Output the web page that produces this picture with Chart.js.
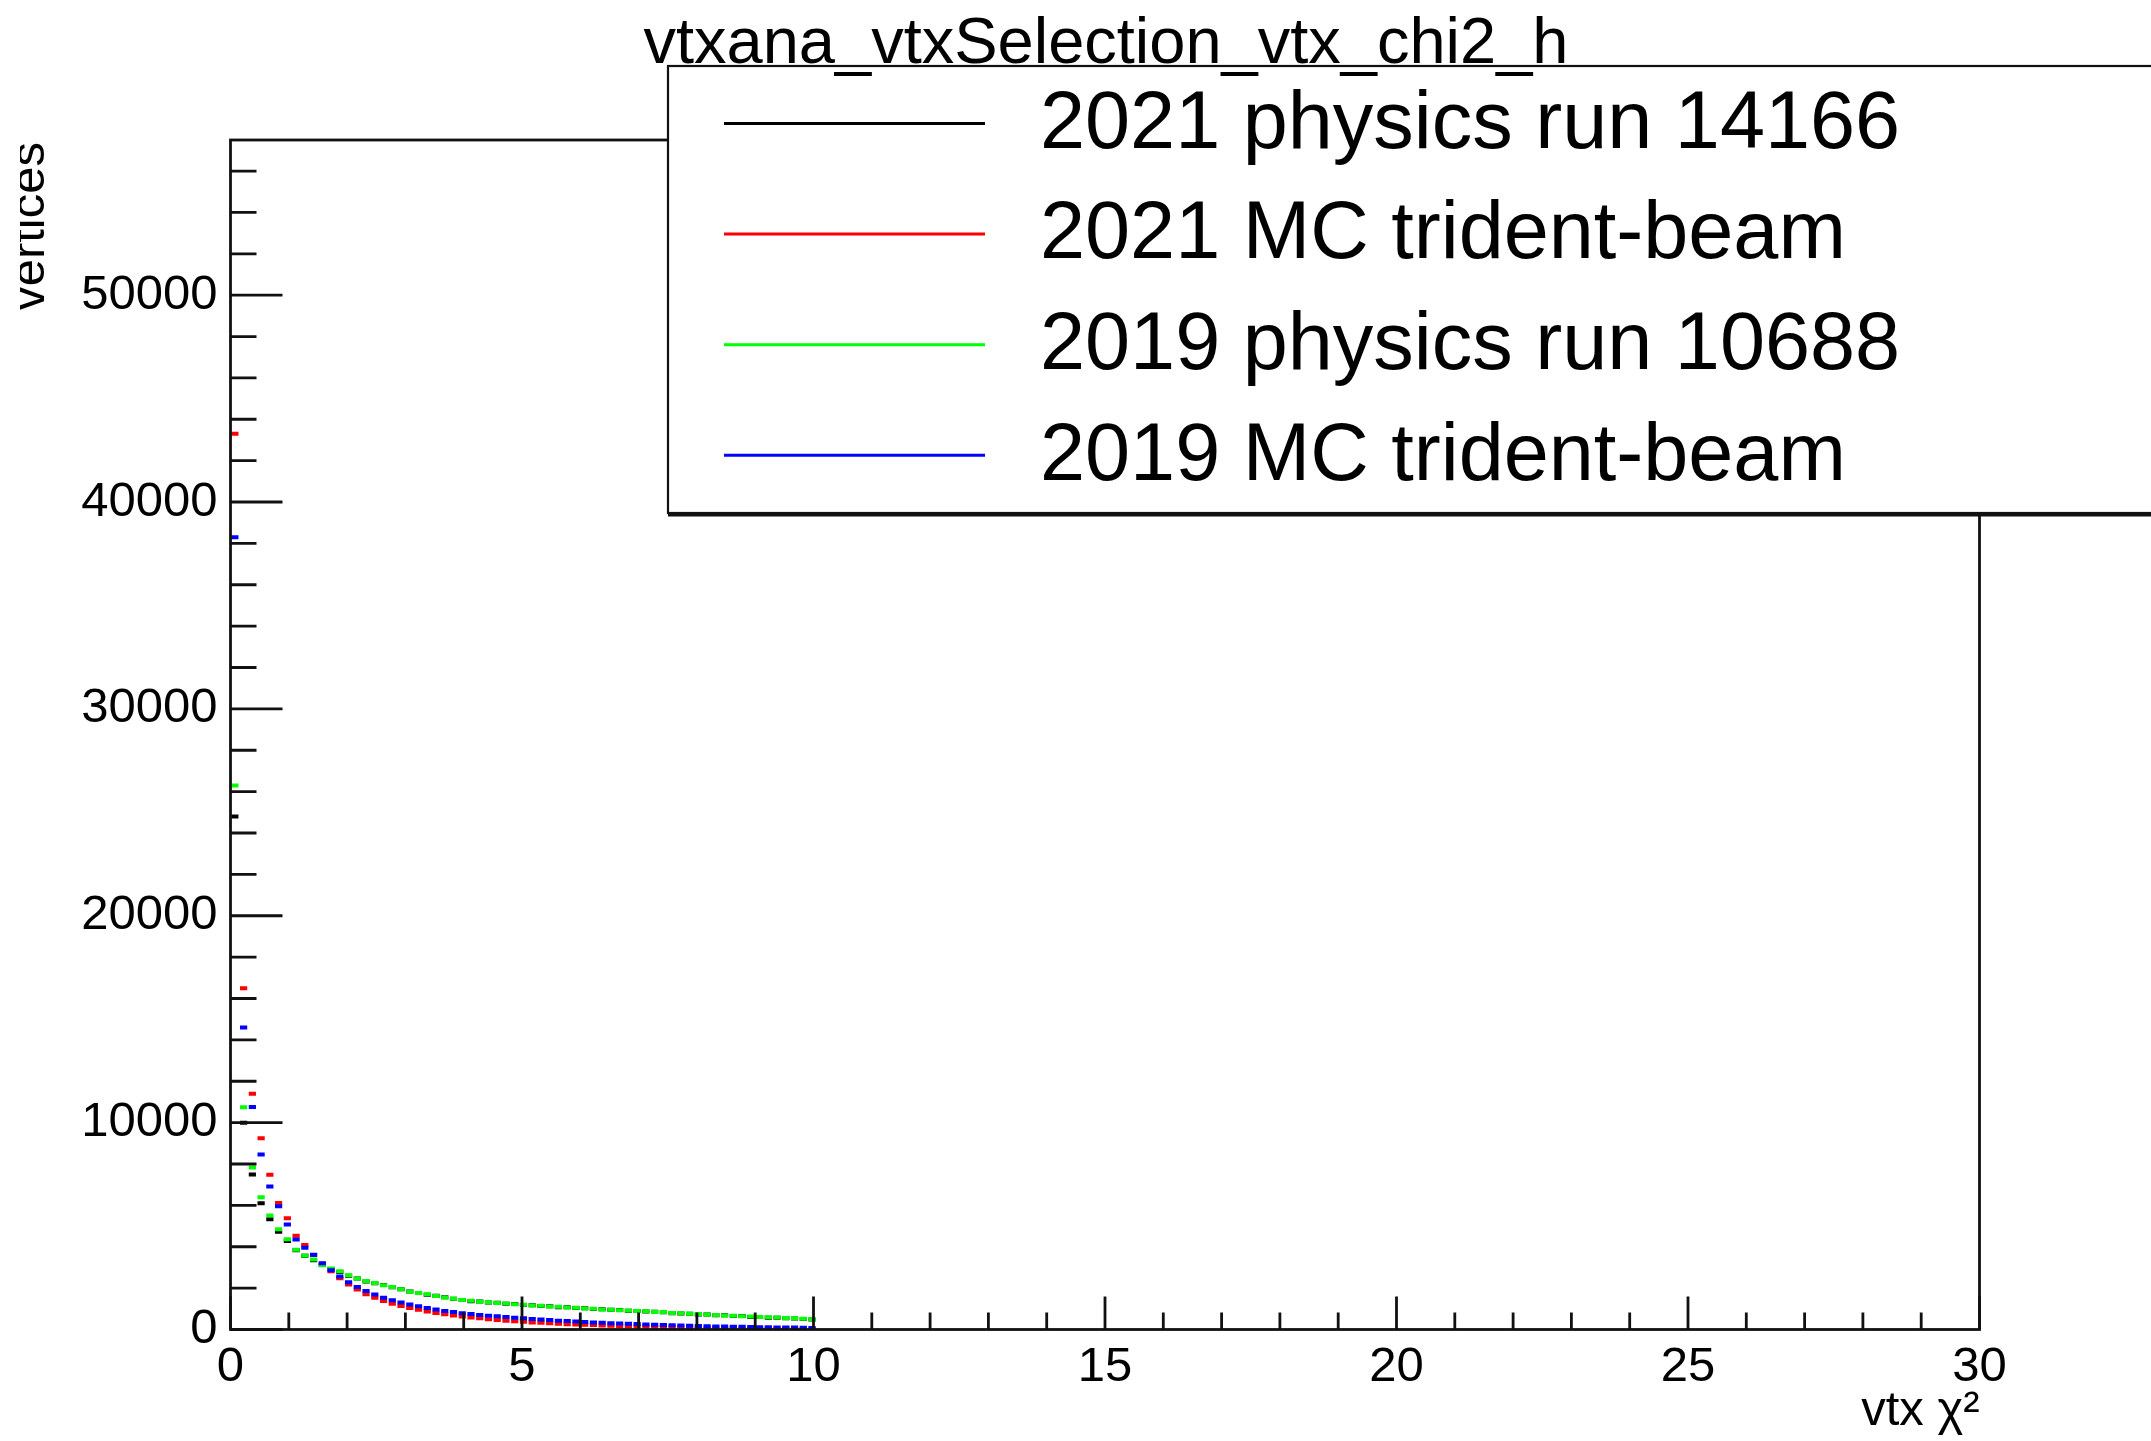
<!DOCTYPE html>
<html>
<head>
<meta charset="utf-8">
<title>vtxana_vtxSelection_vtx_chi2_h</title>
<script src="https://cdn.jsdelivr.net/npm/chart.js@4.4.1/dist/chart.umd.min.js"></script>
<style>
  html, body { margin: 0; padding: 0; background: #fff; }
  #wrap { width: 2151px; height: 1441px; position: relative; }
</style>
</head>
<body>
<div id="wrap"><canvas id="chi2"></canvas></div>
<script>
// vtx chi2 histogram, 0.15 wide bins starting at 0, filled up to chi2 = 10
const BIN_WIDTH = 0.15

const run14166 = [
  24800, 9990, 7490, 6100, 5330, 4720, 4280, 3830, 3560, 3350,
  3120, 2930, 2780, 2600, 2470, 2320, 2230, 2150, 2040, 1950,
  1840, 1770, 1680, 1630, 1560, 1490, 1430, 1370, 1350, 1300,
  1290, 1240, 1230, 1180, 1170, 1130, 1120, 1080, 1075, 1040,
  1025, 990, 980, 950, 940, 905, 900, 870, 860, 830,
  790, 770, 760, 730, 725, 690, 690, 650, 650, 610,
  600, 570, 570, 540, 530, 505, 480
]
const mc2021 = [
  43300, 16500, 11400, 9250, 7480, 6120, 5380, 4530, 4080, 3600,
  3180, 2820, 2480, 2180, 1930, 1710, 1530, 1380, 1250, 1130,
  1040, 950, 875, 800, 735, 680, 628, 580, 538, 495,
  460, 428, 393, 372, 343, 322, 298, 281, 259, 243,
  226, 212, 195, 184, 169, 159, 147, 139, 128, 121,
  111, 105, 96, 92, 84, 80, 73, 70, 63, 61,
  55, 53, 47, 46, 41, 40, 30
]
const run10688 = [
  26300, 10740, 7830, 6390, 5510, 4850, 4360, 3850, 3580, 3380,
  3110, 2950, 2810, 2620, 2460, 2340, 2250, 2140, 2060, 1940,
  1830, 1760, 1700, 1620, 1550, 1490, 1420, 1390, 1340, 1320,
  1275, 1255, 1215, 1200, 1160, 1145, 1110, 1095, 1065, 1050,
  1015, 1005, 970, 960, 930, 920, 890, 880, 850, 845,
  800, 785, 760, 745, 720, 705, 680, 670, 645, 630,
  610, 590, 575, 560, 540, 520, 500
]
const mc2019 = [
  38300, 14600, 10750, 8460, 6910, 5960, 5070, 4350, 3950, 3610,
  3200, 2870, 2560, 2290, 2060, 1860, 1690, 1540, 1410, 1300,
  1210, 1120, 1040, 965, 900, 840, 790, 745, 705, 670,
  640, 603, 574, 538, 512, 480, 458, 429, 410, 384,
  366, 343, 328, 306, 292, 273, 262, 243, 232, 216,
  207, 192, 184, 170, 163, 151, 145, 134, 129, 119,
  114, 105, 102, 94, 91, 84, 75
]

const seriesNames = ['2021 physics run 14166', '2021 MC trident-beam', '2019 physics run 10688', '2019 MC trident-beam']
const seriesColors = ['#000000', '#ff0000', '#00ff00', '#0000ff']
const seriesCounts = [run14166, mc2021, run10688, mc2019]

const xTickLabels = [0, 5, 10, 15, 20, 25, 30]
const yTickLabels = [0, 10000, 20000, 30000, 40000, 50000]
const X_MAX = 30
const Y_MAX = 57500
const Y_MINOR = 2000

const FONT = "'Liberation Sans', Arial, Helvetica, sans-serif"

function toPoints(counts) {
  return counts.map((n, i) => ({ x: (i + 0.5) * BIN_WIDTH, y: n }))
}

// frame, inward ticks, title, rotated y title and the legend box, ROOT-like
const rootPad = {
  id: 'rootPad',
  afterDraw(chart) {
    const { ctx, chartArea: a, scales } = chart
    const xs = scales.x, ys = scales.y
    ctx.save()
    ctx.strokeStyle = '#111'
    ctx.lineWidth = 2.8
    ctx.beginPath()
    xs.ticks.forEach(t => {
      const px = xs.getPixelForValue(t.value)
      const len = xTickLabels.includes(t.value) ? 33 : 17
      ctx.moveTo(px, a.bottom)
      ctx.lineTo(px, a.bottom - len)
    })
    ys.ticks.forEach(t => {
      if (t.value % Y_MINOR !== 0) return
      const py = ys.getPixelForValue(t.value)
      const len = yTickLabels.includes(t.value) ? 52 : 26
      ctx.moveTo(a.left, py)
      ctx.lineTo(a.left + len, py)
    })
    ctx.stroke()
    ctx.strokeRect(a.left, a.top, a.right - a.left, a.bottom - a.top)

    // y title, runs up to the top of the frame
    ctx.save()
    ctx.beginPath()
    ctx.rect(20, 0, 200, chart.height)
    ctx.clip()
    ctx.translate(44, a.top + 2)
    ctx.rotate(-Math.PI / 2)
    ctx.fillStyle = '#000'
    ctx.font = '49px ' + FONT
    ctx.textAlign = 'right'
    ctx.textBaseline = 'alphabetic'
    ctx.fillText('vertices', 0, 0)
    ctx.restore()

    // legend
    const lx = 668, ly = 66, lb = 513
    ctx.fillStyle = '#fff'
    ctx.fillRect(lx, ly, chart.width, lb - ly)
    ctx.lineWidth = 2.2
    ctx.strokeStyle = '#111'
    ctx.strokeRect(lx, ly, chart.width, lb - ly)
    ctx.fillStyle = '#111'
    ctx.fillRect(lx, lb, chart.width, 3.5)
    ctx.font = '81px ' + FONT
    ctx.textAlign = 'left'
    ctx.textBaseline = 'middle'
    chart.data.datasets.forEach((ds, i) => {
      const rowY = 123.5 + i * 110.6
      ctx.strokeStyle = ds.borderColor
      ctx.lineWidth = 3
      ctx.beginPath()
      ctx.moveTo(724, rowY)
      ctx.lineTo(985, rowY)
      ctx.stroke()
      ctx.fillStyle = '#000'
      ctx.fillText(ds.label, 1040, rowY + 2)
    })

    // histogram title
    ctx.font = '65px ' + FONT
    ctx.textAlign = 'center'
    ctx.textBaseline = 'alphabetic'
    ctx.fillText('vtxana_vtxSelection_vtx_chi2_h', 1106, 63)
    ctx.restore()
  }
}

const datasets = seriesCounts.map((counts, i) => ({
  label: seriesNames[i],
  data: toPoints(counts),
  borderColor: seriesColors[i],
  backgroundColor: seriesColors[i],
  showLine: false,
  pointStyle: 'line',
  pointRadius: 3.6,
  pointBorderWidth: 4,
  order: seriesCounts.length - i
}))

Chart.defaults.font.family = FONT
Chart.defaults.color = '#000'

new Chart(document.getElementById('chi2'), {
  type: 'scatter',
  data: { datasets },
  options: {
    responsive: true,
    maintainAspectRatio: false,
    devicePixelRatio: 1,
    animation: false,
    events: [],
    layout: { padding: { left: 0, top: 140, right: 171.5, bottom: 0 } },
    plugins: { legend: { display: false }, tooltip: { enabled: false }, title: { display: false } },
    scales: {
      x: {
        type: 'linear',
        min: 0,
        max: X_MAX,
        grid: { display: false, drawTicks: false },
        border: { display: false },
        afterFit(scale) { scale.height = 111.5 },
        afterBuildTicks(scale) {
          const ticks = []
          for (let v = 0; v <= X_MAX; v++) ticks.push({ value: v })
          scale.ticks = ticks
        },
        ticks: {
          autoSkip: false,
          maxRotation: 0,
          padding: 9,
          font: { size: 49 },
          callback: v => xTickLabels.includes(v) ? String(v) : ''
        },
        title: {
          display: true,
          text: 'vtx χ²',
          align: 'end',
          padding: { top: 0, bottom: 0 },
          font: { size: 49 }
        }
      },
      y: {
        type: 'linear',
        min: 0,
        max: Y_MAX,
        grid: { display: false, drawTicks: false },
        border: { display: false },
        afterFit(scale) { scale.width = 230.5 },
        afterBuildTicks(scale) {
          const ticks = []
          for (let v = 0; v <= Y_MAX; v += Y_MINOR) ticks.push({ value: v })
          scale.ticks = ticks
        },
        ticks: {
          autoSkip: false,
          padding: 13,
          font: { size: 49 },
          callback: v => yTickLabels.includes(v) ? String(v) : ''
        }
      }
    }
  },
  plugins: [rootPad]
})
</script>
</body>
</html>
